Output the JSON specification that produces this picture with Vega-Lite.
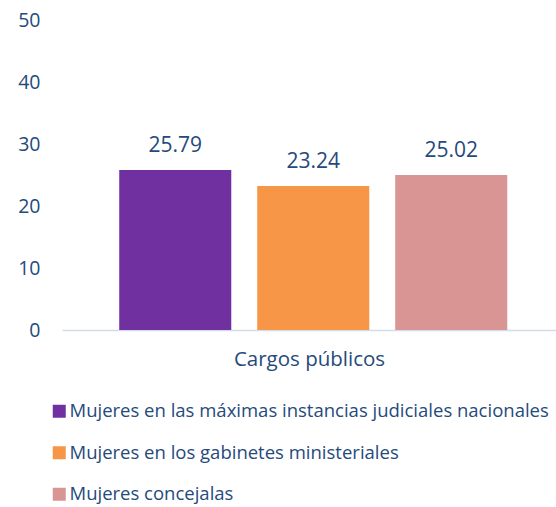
{
  "$schema": "https://vega.github.io/schema/vega-lite/v6.json",
  "autosize": "none",
  "width": 494,
  "height": 310,
  "padding": {"left": 62, "top": 20, "right": 0, "bottom": 177},
  "background": "white",
  "config": {
    "view": {"stroke": null},
    "font": "Open Sans",
    "axis": {"labelFont": "Open Sans", "titleFont": "Open Sans"},
    "legend": {"labelFont": "Open Sans"}
  },
  "data": {
    "values": [
      {"cargo": "Cargos públicos", "serie": "Mujeres en las máximas instancias judiciales nacionales", "valor": 25.79},
      {"cargo": "Cargos públicos", "serie": "Mujeres en los gabinetes ministeriales", "valor": 23.24},
      {"cargo": "Cargos públicos", "serie": "Mujeres concejalas", "valor": 25.02}
    ]
  },
  "encoding": {
    "x": {
      "field": "serie",
      "type": "nominal",
      "sort": null,
      "scale": {"paddingInner": 0.188, "paddingOuter": 0.384, "align": 0.54},
      "axis": {
        "title": "Cargos públicos",
        "labels": false,
        "ticks": false,
        "domainColor": "#D3DCEB",
        "domainWidth": 1.5,
        "titleFontSize": 20.5,
        "titleFontWeight": "normal",
        "titleColor": "#254A7C",
        "titlePadding": 19
      }
    },
    "y": {
      "field": "valor",
      "type": "quantitative",
      "scale": {"domain": [0, 50]},
      "axis": {
        "title": null,
        "values": [0, 10, 20, 30, 40, 50],
        "grid": false,
        "ticks": false,
        "domain": false,
        "labelFontSize": 19.5,
        "labelColor": "#254A7C",
        "labelPadding": 22
      }
    }
  },
  "layer": [
    {
      "mark": {"type": "bar"},
      "encoding": {
        "color": {
          "field": "serie",
          "type": "nominal",
          "sort": null,
          "scale": {"range": ["#7030A0", "#F79646", "#D99594"]},
          "legend": {
            "title": null,
            "orient": "none",
            "legendX": -12,
            "legendY": 382,
            "symbolType": "square",
            "symbolSize": 169,
            "symbolStrokeWidth": 0,
            "symbolOpacity": 1,
            "labelFontSize": 18.5,
            "labelColor": "#254A7C",
            "labelOffset": 1,
            "rowPadding": 22.5,
            "labelLimit": 600
          }
        }
      }
    },
    {
      "mark": {"type": "text", "baseline": "alphabetic", "dy": -18, "fontSize": 21, "color": "#254A7C"},
      "encoding": {
        "text": {"field": "valor", "type": "quantitative", "format": ".2f"}
      }
    }
  ]
}
